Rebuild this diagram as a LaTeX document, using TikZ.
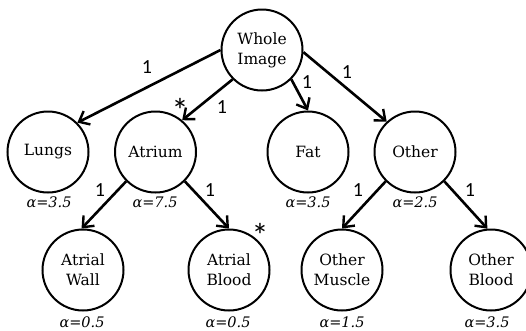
\documentclass[tikz,border=0pt]{standalone}
\usepackage{fontspec}
\setmainfont{DejaVu Serif}
\newfontfamily\lblfont{Carlito}
\usetikzlibrary{arrows.meta}
\tikzset{
  cnode/.style={circle, draw, line width=2pt, minimum size=81pt, inner sep=0pt, align=center, font=\fontsize{15.5}{20}\selectfont},
  edge/.style={line width=2.6pt, -{Straight Barb[length=9pt,width=15pt,line width=2.4pt]}},
  wlabel/.style={font=\lblfont\fontsize{20}{22}\selectfont},
  alabel/.style={font=\itshape\fontsize{14.5}{16}\selectfont},
  star/.style={font=\lblfont\fontsize{34}{34}\selectfont}
}
\begin{document}
\begin{tikzpicture}[x=1pt,y=-1pt]
\useasboundingbox (0,0) rectangle (526,330);
\node[cnode] (w) at (262,50) {Whole\\Image};
\node[cnode] (lu) at (48,152) {Lungs};
\node[cnode] (at) at (155.5,152) {Atrium};
\node[cnode] (fa) at (308,152) {Fat};
\node[cnode] (ot) at (415,152) {Other};
\node[cnode] (aw) at (83,270) {Atrial\\Wall};
\node[cnode] (ab) at (229,270) {Atrial\\Blood};
\node[cnode] (om) at (342,270) {Other\\Muscle};
\node[cnode] (ob) at (491,270) {Other\\Blood};

\draw[edge] (w.180) -- (lu.45);
\draw[edge] (w.225) -- (at.50);
\draw[edge] (w.-45) -- (fa.north);
\draw[edge] (w.-3) -- (ot.133);
\draw[edge] (at.225) -- (aw.92);
\draw[edge] (at.-45) -- (ab.north);
\draw[edge] (ot.225) -- (om.north);
\draw[edge] (ot.-45) -- (ob.95);

\node[wlabel] (l1) at (147,67) {1};
\node[wlabel] (l2) at (222,107) {1};
\node[wlabel] (l3) at (307,82) {1};
\node[wlabel] (l4) at (347,72) {1};
\node[wlabel] (l5) at (100,190) {1};
\node[wlabel] (l6) at (210,190) {1};
\node[wlabel] (l7) at (358,190) {1};
\node[wlabel] (l8) at (470,190) {1};

\node[star] (s1) at (180,110) {*};
\node[star] (s2) at (260,235) {*};

\node[alabel] (a1) at (49,202) {α=3.5};
\node[alabel] (a2) at (155,202) {α=7.5};
\node[alabel] (a3) at (308,202) {α=3.5};
\node[alabel] (a4) at (415,202) {α=2.5};
\node[alabel] (a5) at (82,322) {α=0.5};
\node[alabel] (a6) at (228,322) {α=0.5};
\node[alabel] (a7) at (342,322) {α=1.5};
\node[alabel] (a8) at (487,322) {α=3.5};
\end{tikzpicture}
\end{document}
